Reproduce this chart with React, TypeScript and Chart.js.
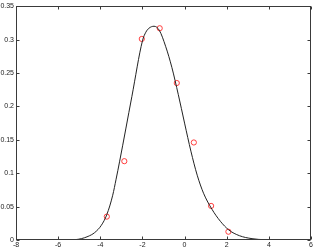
import React, { useEffect, useRef } from "react";
import { Chart, registerables } from "chart.js";

Chart.register(...registerables);

const curveX = [-5.6, -5.2, -4.9, -4.58, -4.27, -3.95, -3.69, -3.41, -3.25, -3.08, -2.5, -2.0, -1.84, -1.69, -1.45, -1.2, -0.9, -0.6, -0.3, 0.0, 0.3, 0.6, 0.9, 1.3, 1.7, 2.1, 2.6, 3.2, 3.8, 4.3];
const curveY = [0, 0.0005, 0.002, 0.0054, 0.011, 0.022, 0.038, 0.067, 0.091, 0.118, 0.215, 0.298, 0.311, 0.317, 0.32, 0.314, 0.29, 0.258, 0.218, 0.175, 0.133, 0.097, 0.07, 0.046, 0.028, 0.015, 0.0065, 0.002, 0.0004, 0];

const sampleX = [-3.69, -2.86, -2.03, -1.18, -0.37, 0.44, 1.26, 2.08];
const sampleY = [0.035, 0.118, 0.301, 0.317, 0.235, 0.146, 0.051, 0.0124];

const xMin = -8, xMax = 6, xStep = 2;
const yMin = 0, yMax = 0.35, yStep = 0.05;

const frame = {
  id: "frame",
  afterDraw(chart: any) {
    const { ctx, chartArea: a, scales } = chart;
    ctx.save();
    ctx.strokeStyle = "#3a3a3a";
    ctx.lineWidth = 1;
    const L = Math.round(a.left) + 0.5, R = Math.round(a.right) - 0.5;
    const T = Math.round(a.top) + 0.5, B = Math.round(a.bottom) - 0.5;
    ctx.strokeRect(L, T, R - L, B - T);
    const len = 3;
    ctx.beginPath();
    scales.x.ticks.forEach((t: any) => {
      const px = Math.round(scales.x.getPixelForValue(t.value)) + 0.5;
      ctx.moveTo(px, B); ctx.lineTo(px, B - len);
      ctx.moveTo(px, T); ctx.lineTo(px, T + len);
    });
    scales.y.ticks.forEach((t: any) => {
      const py = Math.round(scales.y.getPixelForValue(t.value)) + 0.5;
      ctx.moveTo(L, py); ctx.lineTo(L + len, py);
      ctx.moveTo(R, py); ctx.lineTo(R - len, py);
    });
    ctx.stroke();
    ctx.restore();
  },
};

export default function App() {
  const ref = useRef<HTMLCanvasElement>(null);
  useEffect(() => {
    document.body.style.margin = "0";
    const chart = new Chart(ref.current!, {
      type: "scatter",
      data: {
        datasets: [
          {
            type: "line",
            data: curveX.map((x, i) => ({ x, y: curveY[i] })),
            borderColor: "#222",
            borderWidth: 1,
            pointRadius: 0,
            fill: false,
            cubicInterpolationMode: "monotone",
          } as any,
          {
            data: sampleX.map((x, i) => ({ x, y: sampleY[i] })),
            borderColor: "#ff2a2a",
            backgroundColor: "rgba(0,0,0,0)",
            borderWidth: 0.9,
            pointRadius: 2.6,
            pointStyle: "circle",
            showLine: false,
          },
        ],
      },
      options: {
        animation: false,
        responsive: false,
        maintainAspectRatio: false,
        layout: { padding: { top: 6, right: 5, left: 0, bottom: 0 } },
        plugins: { legend: { display: false }, tooltip: { enabled: false } },
        scales: {
          x: {
            type: "linear",
            min: xMin,
            max: xMax,
            grid: { display: false, drawTicks: false },
            border: { display: false },
            ticks: {
              stepSize: xStep,
              padding: 1,
              color: "#222",
              font: { family: "Liberation Sans", size: 7 },
              maxRotation: 0,
              callback: (v: any) => String(v),
            },
            afterFit: (s: any) => { s.height = 10; },
          },
          y: {
            type: "linear",
            min: yMin,
            max: yMax,
            grid: { display: false, drawTicks: false },
            border: { display: false },
            ticks: {
              stepSize: yStep,
              padding: 2,
              color: "#222",
              font: { family: "Liberation Sans", size: 7 },
              callback: (v: any) => String(Number(Number(v).toFixed(2))),
            },
            afterFit: (s: any) => { s.width = 16; },
          },
        },
      },
      plugins: [frame],
    });
    return () => chart.destroy();
  }, []);
  return (
    <div style={{ width: 316, height: 250, background: "#fff" }}>
      <canvas ref={ref} width={316} height={250} />
    </div>
  );
}
